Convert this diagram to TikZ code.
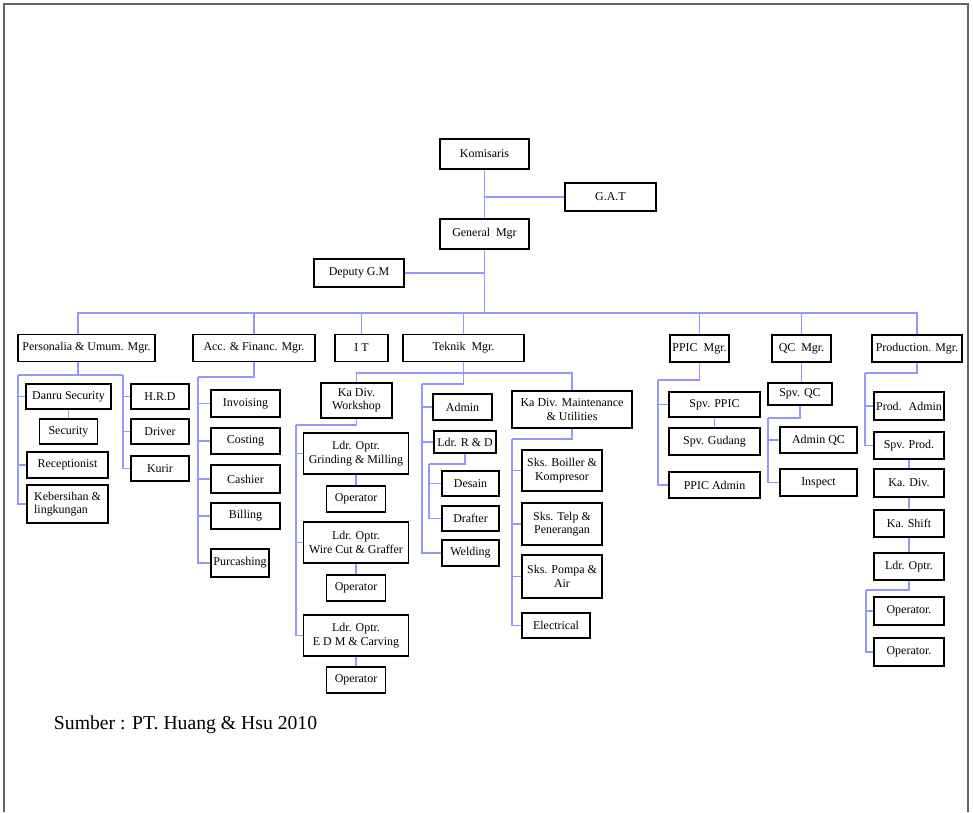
\documentclass[tikz,border=0pt]{standalone}
\usepackage{fontspec}
\setmainfont{Liberation Serif}
\usepackage{tikz}
\usepackage{xcolor}
\definecolor{orgline}{RGB}{150,150,255}
\definecolor{framegray}{RGB}{100,100,100}

\begin{document}
\begin{tikzpicture}[x=0.025cm, y=-0.025cm,
		unit/.style 2 args={draw=black, line width=1.1pt, fill=white, align=center, inner sep=1pt, font=\fontsize{8.5}{9.5}\selectfont, minimum width=#1*0.025cm, minimum height=#2*0.025cm},
		link/.style={draw=orgline, line width=1.1pt}]
		\useasboundingbox (0,0) rectangle (973,812);
		\draw[framegray, line width=1.6pt] (4,812) -- (4,4) -- (968,4) -- (968,812);
		
		\node[unit={89}{30}] (kom) at (484.5,154) {Komisaris};
		\node[unit={91}{28}] (gat) at (610.5,197) {G.A.T};
		\node[unit={89}{30}] (gm) at (484.5,234) {General~ Mgr};
		\node[unit={90}{28}] (dgm) at (359,273) {Deputy G.M};
		\coordinate (bus) at (484.5,313);
		
		\node[unit={137}{27}] (pers) at (86.5,348) {Personalia \& Umum. Mgr.};
		\node[unit={122}{27}] (acc) at (254,348) {Acc. \& Financ. Mgr.};
		\node[unit={53}{27}] (it) at (361.5,348) {I T};
		\node[unit={121}{27}] (tek) at (463.5,348) {Teknik~ Mgr.};
		\node[unit={59}{27}] (ppic) at (699.5,348.5) {PPIC~ Mgr.};
		\node[unit={59}{27}] (qc) at (801.5,348.5) {QC~ Mgr.};
		\node[unit={90}{27}] (prod) at (917,348.5) {Production. Mgr.};
		
		\path[link] (kom) edge (gm);
		\path[link] (gat.west) edge (gat.west -| kom.south);
		\path[link] (dgm.east) edge (dgm.east -| gm.south);
		\path[link] (gm) edge (bus);
		\coordinate (persx) at (78,348);
		\draw[link] (bus) -| (persx |- pers.north);
		\draw[link] (bus) -| (acc.north);
		\draw[link] (bus) -| (it.north);
		\draw[link] (bus) -| (tek.north);
		\draw[link] (bus) -| (ppic.north);
		\draw[link] (bus) -| (qc.north);
		\draw[link] (bus) -| (prod.north);
		
		\node[unit={85}{25}] (danru) at (68.5,396.5) {Danru Security};
		\node[unit={58}{25}] (sec) at (68.5,431.5) {Security};
		\node[unit={81}{26}] (rec) at (67.5,465) {Receptionist};
		\node[unit={81}{38}, align=left] (keb) at (67.5,504) {Kebersihan \&\\lingkungan};
		\node[unit={58}{25}] (hrd) at (160,396.5) {H.R.D};
		\node[unit={58}{25}] (drv) at (160,431.5) {Driver};
		\node[unit={58}{25}] (kur) at (160,468.5) {Kurir};
		\coordinate (persL) at (18,375);
		\coordinate (persR) at (123,375);
		\draw[link] (persx |- pers.south) -- (persx |- persL);
		\draw[link] (persL) -- (persR);
		\draw[link] (persL) |- (danru.west);
		\draw[link] (persL) |- (rec.west);
		\draw[link] (persL) |- (keb.west);
		\draw[link] (danru.south) -- (sec.north);
		\draw[link] (persR) |- (hrd.west);
		\draw[link] (persR) |- (drv.west);
		\draw[link] (persR) |- (kur.west);
		
		\node[unit={69}{27}] (inv) at (245.5,403.5) {Invoising};
		\node[unit={69}{26}] (cost) at (245.5,441) {Costing};
		\node[unit={69}{28}] (cash) at (245.5,479) {Cashier};
		\node[unit={69}{26}] (bill) at (245.5,516) {Billing};
		\node[unit={58}{28}] (purc) at (240,563) {Purcashing};
		\coordinate (accL) at (198,377);
		\draw[link] (acc.south) |- (accL);
		\draw[link] (accL) |- (inv.west);
		\draw[link] (accL) |- (cost.west);
		\draw[link] (accL) |- (cash.west);
		\draw[link] (accL) |- (bill.west);
		\draw[link] (accL) |- (purc.west);
		
		\node[unit={71}{35}] (ws) at (356.5,400.5) {Ka Div.\\Workshop};
		\node[unit={105}{41}] (lgm) at (356,453.5) {Ldr. Optr.\\Grinding \& Milling};
		\node[unit={59}{26}] (op1) at (356,499) {Operator};
		\node[unit={105}{41}] (lwc) at (356,542.5) {Ldr. Optr.\\Wire Cut \& Graffer};
		\node[unit={59}{26}] (op2) at (356,588) {Operator};
		\node[unit={105}{41}] (ledm) at (356,635.5) {Ldr. Optr.\\E D M \& Carving};
		\node[unit={59}{26}] (op3) at (356,680) {Operator};
		\node[unit={59}{26}] (adm) at (462.5,407) {Admin};
		\node[unit={62}{22}] (lrd) at (465,442) {Ldr. R \& D};
		\node[unit={57}{25}] (des) at (470.5,483.5) {Desain};
		\node[unit={57}{25}] (dra) at (470.5,518.5) {Drafter};
		\node[unit={57}{26}] (wel) at (470.5,553) {Welding};
		\node[unit={120}{37}] (mnt) at (572,409.5) {Ka Div. Maintenance\\\& Utilities};
		\node[unit={80}{41}] (boil) at (562,470.5) {Sks. Boiller \&\\Kompresor};
		\node[unit={80}{42}] (telp) at (562,524) {Sks. Telp \&\\Penerangan};
		\node[unit={80}{43}] (pomp) at (562,576.5) {Sks. Pompa \&\\Air};
		\node[unit={68}{25}] (elec) at (556,625.5) {Electrical};
		\coordinate (tekB) at (463.5,373);
		\coordinate (tekL) at (422,384);
		\coordinate (wsL) at (296,425);
		\coordinate (rdL) at (429,464);
		\coordinate (mntL) at (512,439);
		\draw[link] (ws.north) -- (ws.north |- tekB) -| (mnt.north);
		\draw[link] (tek.south) |- (tekL);
		\draw[link] (tekL) |- (adm.west);
		\draw[link] (tekL) |- (lrd.west);
		\draw[link] (tekL) |- (wel.west);
		\draw[link] (ws.south) |- (wsL);
		\draw[link] (wsL) |- (lgm.west);
		\draw[link] (wsL) |- (lwc.west);
		\draw[link] (wsL) |- (ledm.west);
		\draw[link] (lgm.south) -- (op1.north);
		\draw[link] (lwc.south) -- (op2.north);
		\draw[link] (ledm.south) -- (op3.north);
		\draw[link] (lrd.south) |- (rdL);
		\draw[link] (rdL) |- (des.west);
		\draw[link] (rdL) |- (dra.west);
		\draw[link] (mnt.south) |- (mntL);
		\draw[link] (mntL) |- (boil.west);
		\draw[link] (mntL) |- (telp.west);
		\draw[link] (mntL) |- (pomp.west);
		\draw[link] (mntL) |- (elec.west);
		
		\node[unit={91}{25}] (sppic) at (714.5,404.5) {Spv. PPIC};
		\node[unit={91}{27}] (sgud) at (714.5,441.5) {Spv. Gudang};
		\node[unit={91}{26}] (padm) at (714.5,485) {PPIC Admin};
		\coordinate (ppicL) at (658,380);
		\draw[link] (ppic.south) |- (ppicL);
		\draw[link] (ppicL) |- (sppic.west);
		\draw[link] (ppicL) |- (padm.west);
		\draw[link] (sppic.south) -- (sgud.north);
		
		\node[unit={64}{22}] (sqc) at (800,394) {Spv. QC};
		\node[unit={77}{26}] (aqc) at (818.5,440) {Admin QC};
		\node[unit={77}{27}] (insp) at (818.5,482.5) {Inspect};
		\coordinate (qcL) at (768,418);
		\draw[link] (qc.south) -- (qc.south |- sqc.north);
		\draw[link] (sqc.south) |- (qcL);
		\draw[link] (qcL) |- (aqc.west);
		\draw[link] (qcL) |- (insp.west);
		
		\node[unit={70}{28}] (padm2) at (909,406) {Prod.~ Admin};
		\node[unit={70}{27}] (sprod) at (909,445.5) {Spv. Prod.};
		\node[unit={70}{28}] (kdiv) at (909,483) {Ka. Div.};
		\node[unit={70}{27}] (kshf) at (909,523.5) {Ka. Shift};
		\node[unit={70}{27}] (lopt) at (909,566.5) {Ldr. Optr.};
		\node[unit={70}{28}] (opa) at (909,611) {Operator.};
		\node[unit={70}{28}] (opb) at (909,652) {Operator.};
		\coordinate (prodL) at (865,373);
		\coordinate (optL) at (866,590);
		\draw[link] (prod.south) |- (prodL);
		\draw[link] (prodL) |- (padm2.west);
		\draw[link] (prodL) |- (sprod.west);
		\draw[link] (sprod) -- (kdiv);
		\draw[link] (kdiv) -- (kshf);
		\draw[link] (kshf) -- (lopt);
		\draw[link] (lopt.south) |- (optL);
		\draw[link] (optL) |- (opa.west);
		\draw[link] (optL) |- (opb.west);
		
		\node[anchor=west, font=\fontsize{14}{16}\selectfont] (src) at (49,725) {Sumber : PT. Huang \& Hsu 2010};
\end{tikzpicture}
\end{document}
